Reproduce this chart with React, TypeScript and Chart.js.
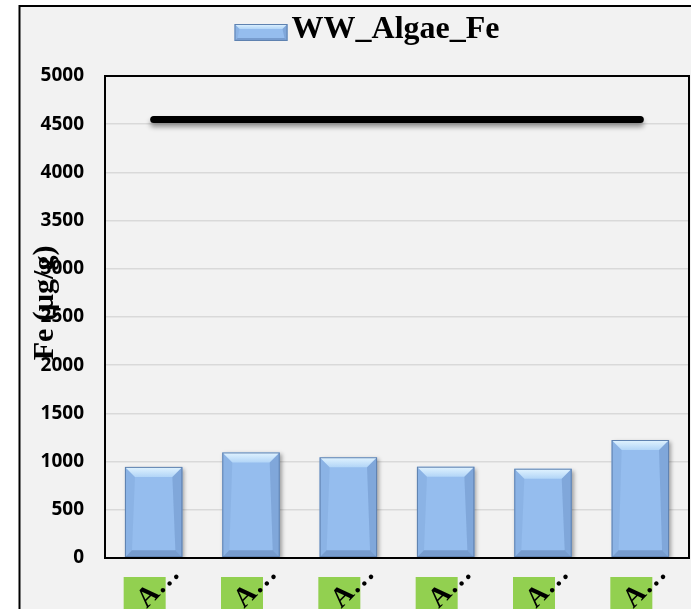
import React, { useEffect, useRef } from 'react';
import { Chart, registerables } from 'chart.js';

Chart.register(...registerables);

// Sample categories (labels shown truncated on the axis)
const categories = ['A…', 'A…', 'A…', 'A…', 'A…', 'A…'];
// Fe content per sample, µg/g
const algaeFe = [945, 1095, 1045, 947, 926, 1224];
// Reference level drawn as a horizontal line
const referenceLevel = [4550, 4550, 4550, 4550, 4550, 4550];
const seriesName = 'WW_Algae_Fe';
const yTitle = 'Fe (µg/g)';
const yMin = 0;
const yMax = 5000;
const yStep = 500;

const WIDTH = 691;
const HEIGHT = 609;

const BAR_BODY = '#95BDEE';
const BAR_EDGE = '#5F82B0';

function bevelRect(ctx: CanvasRenderingContext2D, left: number, top: number, right: number, bottom: number, b: number, bb: number) {
  const w = right - left;
  const h = bottom - top;
  const s = Math.min(b, w / 2, h / 2);
  const sb = Math.min(bb, w / 2, h / 2);
  // top face
  const g = ctx.createLinearGradient(0, top, 0, top + s);
  g.addColorStop(0, '#E2F4FF');
  g.addColorStop(1, '#B2D5F7');
  ctx.fillStyle = g;
  ctx.beginPath();
  ctx.moveTo(left, top);
  ctx.lineTo(right, top);
  ctx.lineTo(right - s, top + s);
  ctx.lineTo(left + s, top + s);
  ctx.closePath();
  ctx.fill();
  // left face
  ctx.fillStyle = 'rgba(110,150,205,0.25)';
  ctx.beginPath();
  ctx.moveTo(left, top);
  ctx.lineTo(left + s, top + s);
  ctx.lineTo(left + sb, bottom - sb);
  ctx.lineTo(left, bottom);
  ctx.closePath();
  ctx.fill();
  // right face
  ctx.fillStyle = 'rgba(90,125,180,0.35)';
  ctx.beginPath();
  ctx.moveTo(right, top);
  ctx.lineTo(right - s, top + s);
  ctx.lineTo(right - sb, bottom - sb);
  ctx.lineTo(right, bottom);
  ctx.closePath();
  ctx.fill();
  // bottom face
  ctx.fillStyle = 'rgba(95,130,180,0.55)';
  ctx.beginPath();
  ctx.moveTo(left, bottom);
  ctx.lineTo(right, bottom);
  ctx.lineTo(right - sb, bottom - sb);
  ctx.lineTo(left + sb, bottom - sb);
  ctx.closePath();
  ctx.fill();
  // outline
  ctx.strokeStyle = BAR_EDGE;
  ctx.lineWidth = 1;
  ctx.strokeRect(left + 0.5, top + 0.5, w - 1, h - 1);
}

// Page background, outer frame, green label cells, plot frame, axis title, legend swatch
const backdropPlugin = {
  id: 'backdrop',
  afterLayout(chart: any) {
    // let the y tick labels extend under the axis title region without clipping
    chart.scales.y.left = 0;
  },
  beforeDraw(chart: any) {
    const { ctx, width, height, chartArea, scales } = chart;
    ctx.save();
    ctx.fillStyle = '#FFFFFF';
    ctx.fillRect(0, 0, width, height);
    ctx.fillStyle = '#F2F2F2';
    ctx.fillRect(19, 6, width, height);
    ctx.strokeStyle = '#000000';
    ctx.lineWidth = 2;
    ctx.strokeRect(19.5, 6, width + 20, height + 20);
    ctx.fillStyle = '#92D050';
    categories.forEach((_, i) => {
      const px = scales.x.getPixelForValue(i);
      ctx.fillRect(px - 30, chartArea.bottom + 19, 42, height);
    });
    ctx.restore();
  },
  afterDraw(chart: any) {
    const { ctx, chartArea } = chart;
    ctx.save();
    ctx.strokeStyle = '#000000';
    ctx.lineWidth = 2;
    ctx.strokeRect(chartArea.left, chartArea.top, chartArea.right - chartArea.left, chartArea.bottom - chartArea.top);
    // y axis title
    ctx.translate(chartArea.left - 52, (chartArea.top + chartArea.bottom) / 2 - 14);
    ctx.rotate(-Math.PI / 2);
    ctx.font = 'bold 30px "Liberation Serif"';
    ctx.fillStyle = '#000000';
    ctx.textAlign = 'center';
    ctx.textBaseline = 'alphabetic';
    ctx.fillText(yTitle, 0, 0);
    ctx.restore();
    // legend swatch, placed snug against the legend text
    const legend = chart.legend;
    if (legend && legend.legendHitBoxes && legend.legendHitBoxes[0]) {
      const hb = legend.legendHitBoxes[0];
      const bw = 53, bh = 17;
      const left = hb.left + 12;
      const top = hb.top + 10;
      ctx.save();
      ctx.fillStyle = BAR_BODY;
      ctx.fillRect(left, top, bw, bh);
      bevelRect(ctx, left, top, left + bw, top + bh, 5, 3);
      ctx.restore();
    }
  },
};

// Shadows for bars and the reference line, bevel faces on bars
const shadingPlugin = {
  id: 'shading',
  beforeDatasetDraw(chart: any, args: any) {
    const ctx = chart.ctx;
    ctx.save();
    if (args.index === 0) {
      ctx.shadowColor = 'rgba(0,0,0,0.35)';
      ctx.shadowBlur = 4;
      ctx.shadowOffsetX = 2;
      ctx.shadowOffsetY = 2;
    } else {
      ctx.shadowColor = 'rgba(0,0,0,0.4)';
      ctx.shadowBlur = 5;
      ctx.shadowOffsetX = 0;
      ctx.shadowOffsetY = 4;
    }
  },
  afterDatasetDraw(chart: any, args: any) {
    const ctx = chart.ctx;
    ctx.restore();
    if (args.index !== 0) return;
    ctx.save();
    args.meta.data.forEach((el: any) => {
      const { x, y, base, width } = el.getProps(['x', 'y', 'base', 'width'], true);
      bevelRect(ctx, x - width / 2, Math.min(y, base), x + width / 2, Math.max(y, base), 10, 7);
    });
    ctx.restore();
  },
};

export default function App() {
  const canvasRef = useRef<HTMLCanvasElement | null>(null);

  useEffect(() => {
    document.body.style.margin = '0';
    const canvas = canvasRef.current;
    if (!canvas) return;
    const chart = new Chart(canvas, {
      data: {
        labels: categories,
        datasets: [
          {
            type: 'bar',
            label: seriesName,
            data: algaeFe,
            backgroundColor: BAR_BODY,
            borderColor: BAR_EDGE,
            borderWidth: 0,
            categoryPercentage: 1,
            barPercentage: 0.59,
            order: 1,
          },
          {
            type: 'line',
            label: 'Reference',
            data: referenceLevel,
            borderColor: '#000000',
            borderWidth: 7,
            borderCapStyle: 'round',
            pointRadius: 0,
            pointHoverRadius: 0,
            fill: false,
            order: 0,
          },
        ],
      } as any,
      options: {
        responsive: false,
        animation: false,
        devicePixelRatio: 1,
        layout: { padding: { left: 33, right: 2, top: 4, bottom: 0 } },
        plugins: {
          tooltip: { enabled: false },
          // empty spacer between the legend and the plot area
          title: { display: true, text: '', padding: 0, font: { size: 20, lineHeight: 1 } },
          legend: {
            position: 'top',
            weight: 3000,
            labels: {
              filter: (item: any) => item.datasetIndex === 0,
              generateLabels: (chart: any) =>
                Chart.defaults.plugins.legend.labels.generateLabels(chart).map((item: any) => ({
                  ...item,
                  fillStyle: 'rgba(0,0,0,0)',
                  strokeStyle: 'rgba(0,0,0,0)',
                  lineWidth: 0,
                })),
              boxWidth: 53,
              boxHeight: 17,
              padding: 10,
              color: '#000000',
              font: { family: 'Liberation Serif', weight: 'bold', size: 32 },
            },
          },
        },
        scales: {
          x: {
            type: 'category',
            grid: { display: false, drawTicks: false },
            border: { display: false },
            ticks: {
              autoSkip: false,
              minRotation: 45,
              maxRotation: 45,
              padding: 0,
              labelOffset: 22,
              color: '#000000',
              font: { family: 'Liberation Serif', weight: 'bold', size: 28 },
            },
            afterFit: (scale: any) => {
              scale.height = 51;
              scale.paddingLeft = 0;
              scale.paddingRight = 0;
            },
          },
          y: {
            type: 'linear',
            min: yMin,
            max: yMax,
            grid: { color: '#D9D9D9', lineWidth: 1.5, drawTicks: false },
            border: { display: false },
            ticks: {
              stepSize: yStep,
              padding: 21,
              color: '#000000',
              font: { family: 'Open Sans', weight: 'bold', size: 19 },
              callback: (v: any) => String(v),
            },
            afterFit: (scale: any) => {
              scale.width = 72;
            },
          },
        },
      } as any,
      plugins: [backdropPlugin, shadingPlugin],
    });
    return () => chart.destroy();
  }, []);

  return (
    <div style={{ width: WIDTH, height: HEIGHT, overflow: 'hidden' }}>
      <canvas ref={canvasRef} width={WIDTH} height={HEIGHT} style={{ display: 'block' }} />
    </div>
  );
}
